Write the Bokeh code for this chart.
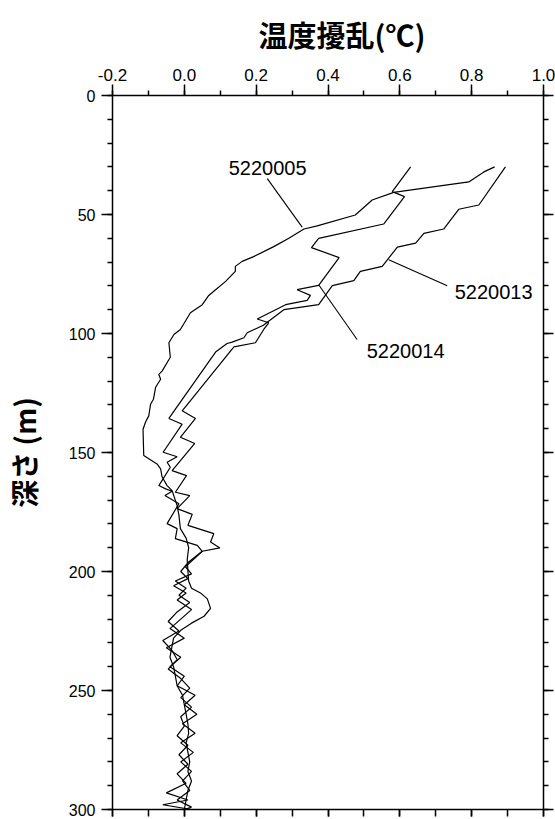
from bokeh.plotting import figure
from bokeh.models import LinearAxis, FixedTicker, PrintfTickFormatter
from bokeh.core.properties import value
from bokeh.embed import file_html
from bokeh.resources import INLINE

# ---- data: temperature disturbance (°C) vs depth (m) ----
t_5220005 = [0.864, 0.834, 0.792, 0.583, 0.523, 0.476, 0.370, 0.333, 0.291, 0.249,
             0.193, 0.161, 0.142, 0.142, 0.115, 0.087, 0.068, 0.050, 0.017, -0.011,
             -0.029, -0.043, -0.039, -0.062, -0.071, -0.066, -0.080, -0.086, -0.094, -0.099,
             -0.108, -0.115, -0.113, -0.076, -0.066, -0.062, -0.048, -0.034, -0.020, -0.015,
             -0.011, 0.005, 0.012, 0.008, 0.010, 0.012, 0.020, 0.045, 0.064, 0.073,
             0.055, 0.020, -0.010, -0.030, -0.035, -0.040, -0.030, -0.025, -0.020, -0.005,
             0.000, 0.005, 0.010, 0.012, 0.005, 0.010, 0.015, 0.010, 0.020, 0.010,
             0.005, 0.000]
d_5220005 = [30.0, 32.1, 36.3, 40.7, 43.9, 50.2, 54.8, 56.1, 60.0, 63.5,
             67.7, 69.7, 71.8, 73.9, 78.1, 81.6, 84.0, 87.9, 91.3, 98.3,
             100.4, 103.9, 110.0, 115.8, 117.2, 119.2, 122.6, 127.6, 129.7, 134.6,
             137.2, 140.2, 151.3, 154.8, 156.9, 160.2, 163.9, 166.0, 172.3, 176.4,
             182.0, 186.0, 190.0, 195.0, 200.0, 204.0, 207.0, 209.0, 211.5, 215.5,
             218.8, 221.7, 224.7, 228.0, 232.0, 236.0, 240.0, 244.0, 248.0, 252.0,
             256.0, 260.0, 264.0, 268.0, 272.0, 276.0, 280.0, 284.0, 288.0, 292.0,
             296.0, 300.0]

t_5220013 = [0.894, 0.820, 0.764, 0.722, 0.667, 0.644, 0.593, 0.551, 0.490, 0.472,
             0.412, 0.374, 0.277, 0.220, 0.175, 0.166, 0.133, 0.119, 0.087, -0.043,
             -0.006, -0.059, -0.020, -0.048, -0.039, -0.071, -0.052, -0.034, -0.054, -0.015,
             -0.048, -0.020, -0.025, 0.036, 0.050, 0.003, 0.020, -0.025, 0.005, -0.015,
             0.015, -0.020, -0.045, -0.015, -0.060, -0.035, -0.020, -0.045, -0.010, 0.015,
             -0.010, 0.020, -0.010, 0.000, -0.020, 0.010, -0.015, 0.010, -0.020, 0.005,
             -0.050, 0.010, -0.060, 0.020]
d_5220013 = [30.0, 46.0, 47.8, 56.1, 57.9, 62.0, 63.7, 71.8, 73.9, 77.8,
             79.9, 87.9, 90.0, 96.5, 99.7, 101.8, 103.6, 104.2, 107.8, 135.7,
             138.1, 149.9, 151.8, 154.1, 156.2, 163.9, 165.3, 166.3, 168.1, 171.5,
             179.9, 182.0, 186.2, 189.0, 191.5, 198.0, 201.0, 204.0, 207.0, 210.0,
             213.0, 217.0, 221.0, 225.0, 229.0, 233.0, 237.0, 241.0, 245.0, 249.0,
             253.0, 257.0, 261.0, 265.0, 269.0, 273.0, 277.0, 281.0, 285.0, 289.0,
             293.0, 296.0, 298.0, 300.0]

t_5220014 = [0.630, 0.579, 0.613, 0.555, 0.374, 0.354, 0.431, 0.374, 0.314, 0.351,
             0.342, 0.282, 0.203, 0.235, 0.221, 0.198, 0.138, -0.006, 0.031, -0.011,
             0.029, -0.034, 0.006, -0.025, 0.015, -0.020, 0.022, 0.010, 0.082, 0.073,
             0.099, 0.050, 0.012, -0.010, 0.010, -0.030, 0.005, -0.020, 0.020, -0.010,
             -0.040, 0.000, -0.050, -0.010, -0.040, 0.000, -0.020, 0.030, 0.000, 0.035,
             -0.005, 0.030, -0.010, 0.025, -0.010, 0.020, -0.005, 0.015, -0.020, 0.020,
             0.000]
d_5220014 = [30.0, 40.4, 42.5, 54.0, 60.0, 63.9, 68.1, 79.8, 81.6, 84.0,
             86.1, 87.9, 93.9, 95.5, 98.3, 103.9, 105.6, 132.5, 135.7, 143.6,
             146.2, 157.6, 159.7, 166.7, 168.1, 173.6, 176.0, 180.6, 184.1, 187.6,
             190.1, 191.5, 196.0, 200.0, 203.0, 206.0, 209.0, 212.0, 216.0, 220.0,
             224.0, 228.0, 232.0, 236.0, 240.0, 244.0, 248.0, 252.0, 256.0, 260.0,
             264.0, 268.0, 272.0, 276.0, 280.0, 284.0, 288.0, 292.0, 296.0, 299.0,
             300.0]

x_major_ticks = [-0.2, 0.0, 0.2, 0.4, 0.6, 0.8, 1.0]
x_minor_ticks = [-0.2, -0.1, 0.0, 0.1, 0.2, 0.3, 0.4, 0.5, 0.6, 0.7, 0.8, 0.9, 1.0]
y_major_ticks = [0, 50, 100, 150, 200, 250, 300]
y_minor_ticks = list(range(0, 301, 10))

# series labels and their leader lines (data coordinates)
label_names = ["5220005", "5220013", "5220014"]
label_t = [0.232, 0.861, 0.616]
label_d = [30.5, 82.4, 107.5]
leader_t0 = [0.231, 0.569, 0.374]
leader_d0 = [34.9, 69.0, 79.5]
leader_t1 = [0.328, 0.732, 0.481]
leader_d1 = [55.3, 79.9, 102.5]

FONT = "Liberation Sans"
CJK = "Noto Sans CJK JP"

p = figure(width=555, height=819, x_range=(-0.2, 1.0), y_range=(300, 0),
           x_axis_location="above", output_backend="svg", toolbar_location=None,
           min_border_left=112, min_border_top=95, min_border_right=12, min_border_bottom=10)
p.xgrid.visible = False
p.ygrid.visible = False
p.outline_line_color = None
p.background_fill_color = "white"
p.border_fill_color = "white"

p.title.text = "温度擾乱(℃)"
p.title.text_font = CJK
p.title.text_font_style = "bold"
p.title.text_font_size = "29px"
p.title.align = "left"
p.title.offset = 146
p.title.standoff = 21
p.title.text_color = "black"

for (t, d) in [(t_5220005, d_5220005), (t_5220013, d_5220013), (t_5220014, d_5220014)]:
    p.line(t, d, line_color="black", line_width=1.2)

p.segment(x0=leader_t0, y0=leader_d0, x1=leader_t1, y1=leader_d1,
          line_color="black", line_width=1.1)
p.text(x=label_t, y=label_d, text=label_names, text_font=value(FONT),
       text_font_size="20px", text_align="center", text_baseline="middle",
       text_color="black")

xt = FixedTicker(ticks=x_major_ticks, minor_ticks=x_minor_ticks)
yt = FixedTicker(ticks=y_major_ticks, minor_ticks=y_minor_ticks)

# top axis (tick labels)
ax = p.xaxis[0]
ax.ticker = xt
ax.formatter = PrintfTickFormatter(format="%.1f")
ax.major_label_text_font = FONT
ax.major_label_text_font_size = "17px"
ax.major_label_standoff = 4

ay = p.yaxis[0]
ay.ticker = yt
ay.axis_label = "深さ (m)"
ay.axis_label_text_font = CJK
ay.axis_label_text_font_style = "bold"
ay.axis_label_text_font_size = "28px"
ay.axis_label_standoff = 22
ay.major_label_text_font = FONT
ay.major_label_text_font_size = "16px"
ay.major_label_standoff = 6

for a in (ax, ay):
    a.major_tick_out = 11
    a.major_tick_in = 0
    a.minor_tick_out = 5
    a.minor_tick_in = 0
    a.axis_line_width = 1.5
    a.major_tick_line_width = 1.5
    a.minor_tick_line_width = 1.5
    a.axis_line_color = "black"
    a.major_label_text_color = "black"
    a.axis_label_text_color = "black"

# mirrored axes without labels
bx = LinearAxis(ticker=xt, major_label_overrides={t: "" for t in x_major_ticks},
                major_label_text_font_size="1px", major_label_standoff=0,
                major_tick_out=7, major_tick_in=0, minor_tick_out=7, minor_tick_in=0,
                axis_line_width=1.5, major_tick_line_width=1.5, minor_tick_line_width=1.5)
p.add_layout(bx, "below")
ry = LinearAxis(ticker=yt, major_label_overrides={t: "" for t in y_major_ticks},
                major_label_text_font_size="1px", major_label_standoff=0,
                major_tick_out=10, major_tick_in=0, minor_tick_out=5, minor_tick_in=0,
                axis_line_width=1.5, major_tick_line_width=1.5, minor_tick_line_width=1.5)
p.add_layout(ry, "right")

open("out.html", "w").write(file_html(p, INLINE))
